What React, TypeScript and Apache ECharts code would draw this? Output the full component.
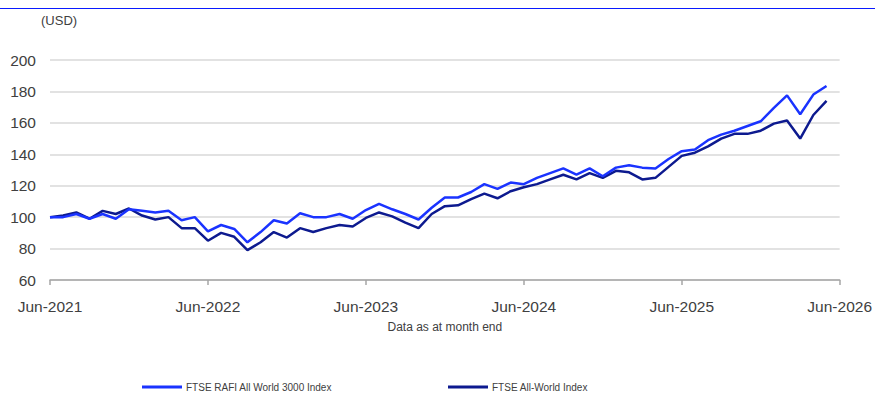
import React, { useEffect, useRef } from "react";
import * as echarts from "echarts";

const xTickLabels = ["Jun-2021", "Jun-2022", "Jun-2023", "Jun-2024", "Jun-2025", "Jun-2026"];
const yTicks = [60, 80, 100, 120, 140, 160, 180, 200];

const rafiName = "FTSE RAFI All World 3000 Index";
const worldName = "FTSE All-World Index";

// Monthly values, Jun-2021 .. May-2026
const rafiValues = [
  100, 100, 102, 99, 102, 99, 105, 104, 103, 104,
  98, 100, 91, 95, 92.5, 84, 90.5, 98, 96, 102.5,
  100, 100, 102, 99, 104.5, 108.5, 105, 102, 98.5, 106,
  112.5, 112.5, 116, 121, 118, 122, 121, 125, 128, 131,
  127, 131, 126, 131.5, 133, 131.5, 131, 137, 142, 143,
  149, 152.5, 155, 158, 161, 169.5, 177.5, 165.5, 178, 183.5,
];
const worldValues = [
  100, 101, 103, 99, 104, 102, 105.5, 101, 98.5, 100,
  93, 93, 85, 90, 87.5, 79, 84, 90.5, 87, 93,
  90.5, 93, 95, 94, 99.5, 103, 100.5, 96.5, 93, 102,
  107, 107.5, 111.5, 115, 112, 116.5, 119, 121, 124, 127,
  124, 128, 125, 129.5, 128.5, 124, 125, 132, 139, 141,
  145, 150, 153, 153, 155, 159.5, 161.5, 150, 165, 174,
];

const FONT = "'Liberation Sans', Arial, sans-serif";
const TEXT = "#404040";

export default function App() {
  const ref = useRef<HTMLDivElement>(null);
  useEffect(() => {
    document.body.style.margin = "0";
    if (!ref.current) return;
    const chart = echarts.init(ref.current, null, { renderer: "svg" });
    const toPts = (arr: number[]) => arr.map((v, i) => [i, v]);
    chart.setOption({
      animation: false,
      textStyle: { fontFamily: FONT },
      grid: { left: 50, right: 35, top: 60, bottom: 116, containLabel: false },
      xAxis: {
        type: "value",
        min: 0,
        max: 60,
        interval: 12,
        name: "Data as at month end",
        nameLocation: "middle",
        nameGap: 41,
        nameTextStyle: { fontSize: 12, color: TEXT, fontFamily: FONT },
        axisLine: { show: true, lineStyle: { color: "#a6a6a6", width: 1.5 } },
        axisTick: { show: true, length: 5, lineStyle: { color: "#a6a6a6", width: 1.5 } },
        splitLine: { show: false },
        axisLabel: {
          fontSize: 15.5,
          color: TEXT,
          margin: 18,
          fontFamily: FONT,
          formatter: (v: number) => xTickLabels[Math.round(v / 12)] ?? "",
        },
      },
      yAxis: {
        type: "value",
        min: yTicks[0],
        max: yTicks[yTicks.length - 1],
        interval: 20,
        axisLine: { show: false },
        axisTick: { show: false },
        splitLine: { show: true, lineStyle: { color: "#d9d9d9", width: 1.5 } },
        axisLabel: { fontSize: 15.5, color: TEXT, margin: 14, fontFamily: FONT },
      },
      legend: [
        {
          data: [rafiName],
          left: 142,
          top: 382,
          icon: "rect",
          itemWidth: 40,
          itemHeight: 3,
          textStyle: { fontSize: 10, color: TEXT, fontFamily: FONT, padding: [0, 0, 0, -1] },
          padding: 0,
        },
        {
          data: [worldName],
          left: 448,
          top: 382,
          icon: "rect",
          itemWidth: 40,
          itemHeight: 3,
          textStyle: { fontSize: 10, color: TEXT, fontFamily: FONT, padding: [0, 0, 0, -1] },
          padding: 0,
        },
      ],
      graphic: [
        {
          type: "line",
          shape: { x1: 0, y1: 8.5, x2: 875, y2: 8.5 },
          style: { stroke: "#0a1aff", lineWidth: 1 },
        },
        {
          type: "text",
          left: 41,
          top: 14,
          style: { text: "(USD)", fontSize: 13, fill: TEXT, fontFamily: FONT },
        },
      ],
      series: [
        {
          name: worldName,
          type: "line",
          data: toPts(worldValues),
          showSymbol: false,
          symbol: "none",
          lineStyle: { color: "#0d1a8f", width: 2.5 },
          itemStyle: { color: "#0d1a8f" },
          z: 2,
        },
        {
          name: rafiName,
          type: "line",
          data: toPts(rafiValues),
          showSymbol: false,
          symbol: "none",
          lineStyle: { color: "#1a33ff", width: 2.5 },
          itemStyle: { color: "#1a33ff" },
          z: 3,
        },
      ],
    });
    return () => chart.dispose();
  }, []);
  return <div ref={ref} style={{ width: 875, height: 396 }} />;
}
